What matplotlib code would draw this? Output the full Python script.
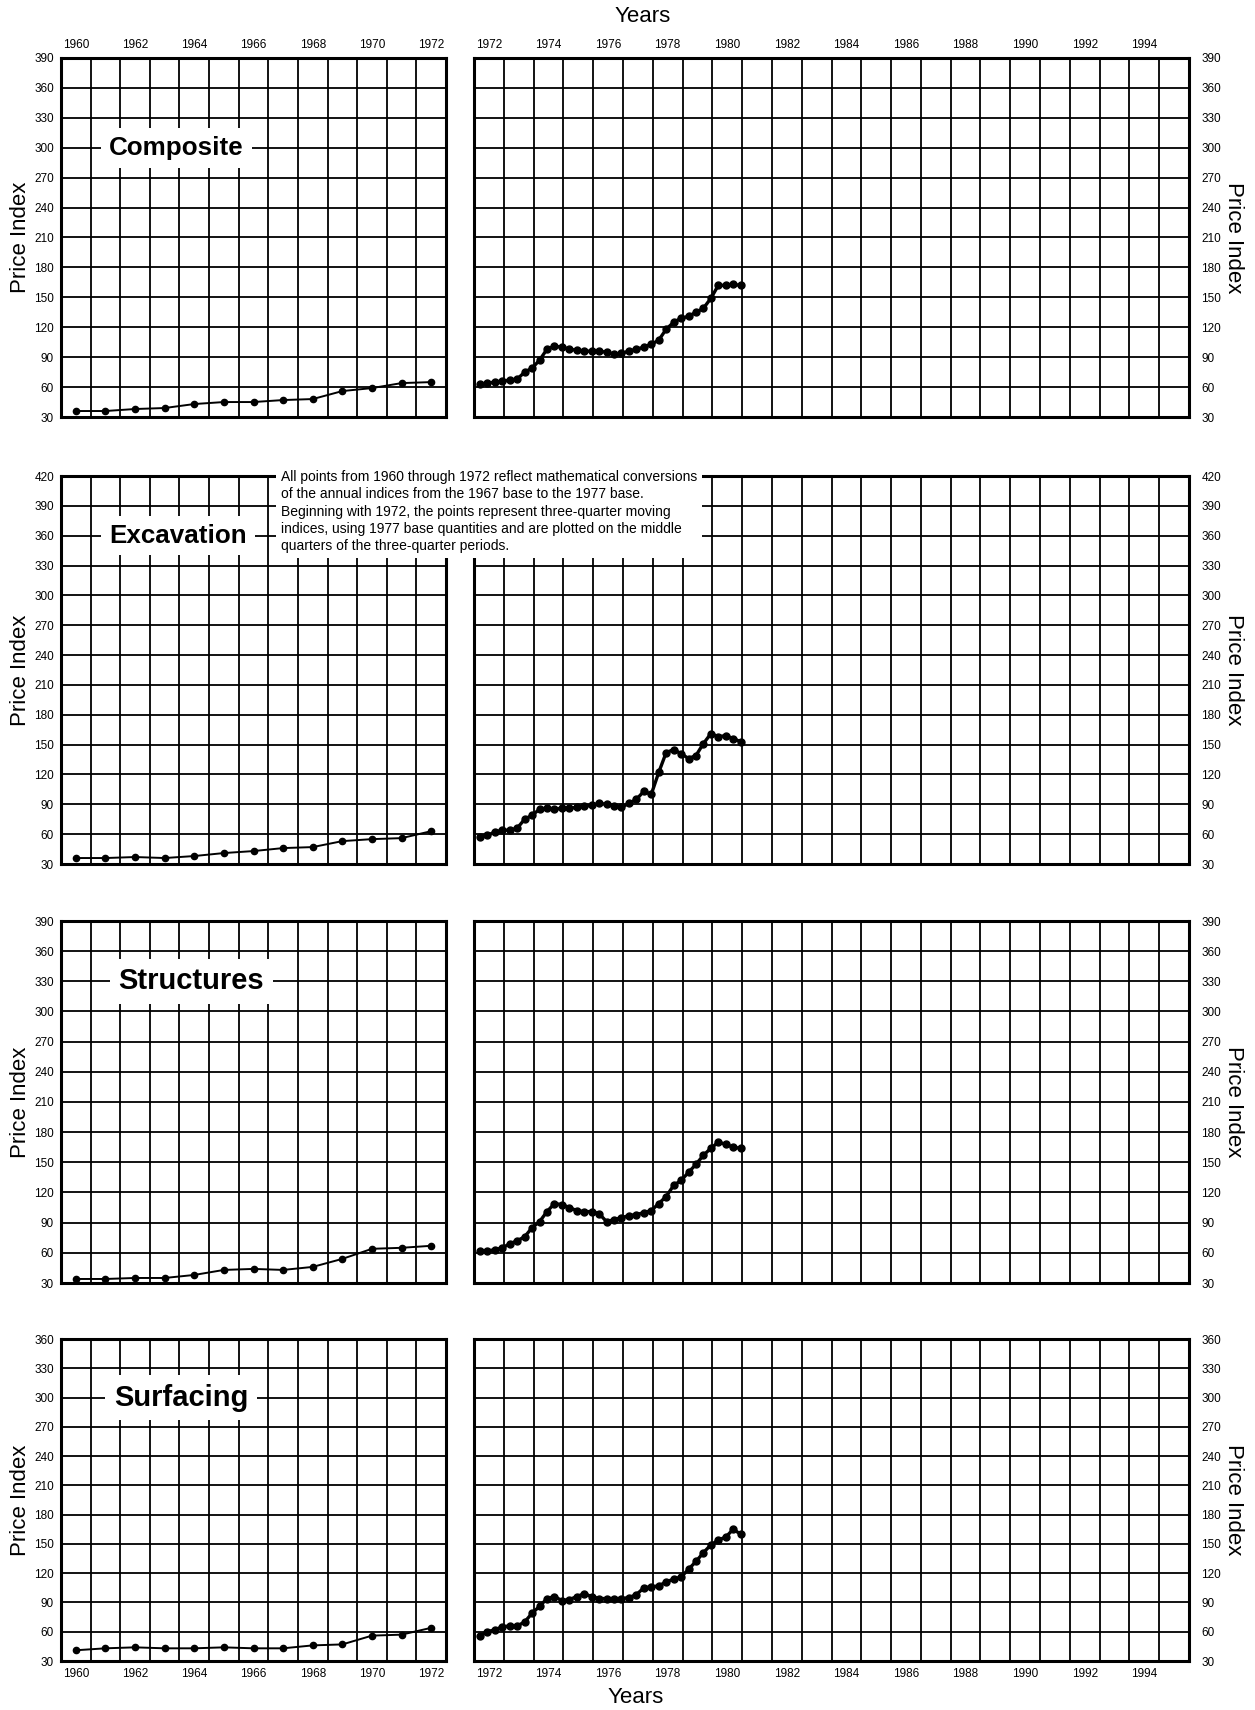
## IMPORTS
import numpy as np
import matplotlib
matplotlib.use("Agg")
import matplotlib.pyplot as plt

plt.rcParams["font.family"] = ["Liberation Sans", "DejaVu Sans"]

## GLOBAL VARIABLES
W, H = 1255, 1710

# annual indices 1960-1972 (left hand panels)
annual_years = list(range(1960, 1973))
composite_annual = [36, 36, 38, 39, 43, 45, 45, 47, 48, 56, 59, 64, 65]
excavation_annual = [36, 36, 37, 36, 38, 41, 43, 46, 47, 53, 55, 56, 63]
structures_annual = [34, 34, 35, 35, 38, 43, 44, 43, 46, 54, 64, 65, 67]
surfacing_annual = [41, 43, 44, 43, 43, 44, 43, 43, 46, 47, 56, 57, 64]

# quarterly three-quarter moving indices 1972-1980 (right hand panels)
quarter_index = list(range(36))
composite_quarterly = [63, 64, 65, 66, 67, 68, 75, 79, 87, 98, 101, 100,
                       98, 97, 96, 96, 96, 95, 93, 94, 96, 98, 100, 103,
                       107, 118, 125, 129, 131, 135, 139, 149, 162, 162, 163, 162]
excavation_quarterly = [57, 59, 62, 64, 64, 66, 75, 79, 85, 86, 85, 86,
                        86, 87, 88, 89, 91, 90, 88, 87, 91, 95, 103, 100,
                        122, 142, 145, 141, 136, 139, 151, 161, 158, 159, 156, 153]
structures_quarterly = [62, 62, 63, 65, 69, 72, 76, 85, 91, 101, 109, 108,
                        105, 102, 101, 101, 99, 91, 93, 95, 97, 98, 100, 102,
                        109, 116, 127, 132, 140, 148, 157, 164, 170, 168, 165, 164]
surfacing_quarterly = [56, 60, 62, 65, 66, 66, 70, 79, 86, 94, 96, 92,
                       93, 96, 99, 96, 94, 94, 94, 94, 95, 98, 105, 106,
                       107, 111, 114, 116, 124, 132, 141, 149, 154, 157, 165, 160]

left_year_labels = list(range(1960, 1973, 2))
right_year_labels = list(range(1972, 1995, 2))

NOTE = ("All points from 1960 through 1972 reflect mathematical conversions\n"
        "of the annual indices from the 1967 base to the 1977 base.\n"
        "Beginning with 1972, the points represent three-quarter moving\n"
        "indices, using 1977 base quantities and are plotted on the middle\n"
        "quarters of the three-quarter periods.")

# rows: name, annual data, quarterly data, y max, (top px, bottom px), title position, title size
PANELS = [
    ("Composite", composite_annual, composite_quarterly, 390, (58, 417), (1963.9, 300), 18.7),
    ("Excavation", excavation_annual, excavation_quarterly, 420, (476, 864), (1963.95, 360), 18.7),
    ("Structures", structures_annual, structures_quarterly, 390, (921, 1283), (1964.4, 330), 21),
    ("Surfacing", surfacing_annual, surfacing_quarterly, 360, (1339, 1661), (1964.05, 300), 21),
]
LEFT_X = (61, 446)
RIGHT_X = (474, 1189)
QUARTER_OFFSET = 0.2


# convert a pixel box into figure fractions
def px_box(x0, x1, y0, y1):
    return [x0 / W, 1 - y1 / H, (x1 - x0) / W, (y1 - y0) / H]


# function to set up one gridded panel
def style_axes(ax, x0, x1, ymax, labels, row, side):
    ax.set_xlim(x0, x1)
    ax.set_ylim(30, ymax)
    ax.set_xticks(np.arange(x0, x1 + 1))
    ax.set_xticklabels([])
    ax.set_xticks([y + 0.5 for y in labels], minor=True)
    ax.set_xticklabels([str(y) for y in labels], minor=True)
    ax.set_yticks(np.arange(30, ymax + 1, 30))
    ax.grid(True, which="major", color="black", linewidth=1.3)
    ax.set_axisbelow(True)
    ax.tick_params(which="both", length=0, labelsize=8.5)
    ax.tick_params(axis="x", which="minor", labeltop=(row == 0),
                   labelbottom=(row == 3), pad=5)
    for s in ax.spines.values():
        s.set_linewidth(2.2)
    if side == "right":
        ax.yaxis.tick_right()
        ax.tick_params(axis="y", pad=9)
    else:
        ax.tick_params(axis="y", pad=5)


fig = plt.figure(figsize=(W / 100, H / 100), dpi=100)

for row, (name, annual, quarterly, ymax, (top, bottom), title_pos, title_size) in enumerate(PANELS):
    # left panel: annual values 1960-1972
    axl = fig.add_axes(px_box(LEFT_X[0], LEFT_X[1], top, bottom))
    style_axes(axl, 1960, 1973, ymax, left_year_labels, row, "left")
    axl.plot([y + 0.5 for y in annual_years], annual, color="black",
             linewidth=1.4, marker="o", markersize=4.5, zorder=3)
    axl.text(title_pos[0], title_pos[1], name, fontsize=title_size, fontweight="bold",
             ha="center", va="center", zorder=4,
             bbox=dict(facecolor="white", edgecolor="none", boxstyle="square,pad=0.3"))

    # right panel: quarterly values from 1972
    axr = fig.add_axes(px_box(RIGHT_X[0], RIGHT_X[1], top, bottom))
    style_axes(axr, 1972, 1996, ymax, right_year_labels, row, "right")
    qx = [1972 + QUARTER_OFFSET + 0.25 * q for q in quarter_index]
    axr.plot(qx, quarterly, color="black", linewidth=2.4,
             marker="o", markersize=5, zorder=3)

    mid = 1 - (top + bottom) / 2 / H
    fig.text(21 / W, mid, "Price Index", rotation=90, fontsize=16,
             ha="center", va="center")
    fig.text(1233 / W, mid, "Price Index", rotation=270, fontsize=16,
             ha="center", va="center")

# explanatory note over the excavation panels
fig.text(281 / W, 1 - 470 / H, NOTE, ha="left", va="top", fontsize=10,
         linespacing=1.3,
         bbox=dict(facecolor="white", edgecolor="none", boxstyle="square,pad=0.35"))

fig.text(643 / W, 1 - 16 / H, "Years", fontsize=16, ha="center", va="center")
fig.text(636 / W, 1 - 1697 / H, "Years", fontsize=16, ha="center", va="center")

fig.savefig("out.png", dpi=100, facecolor="white")
